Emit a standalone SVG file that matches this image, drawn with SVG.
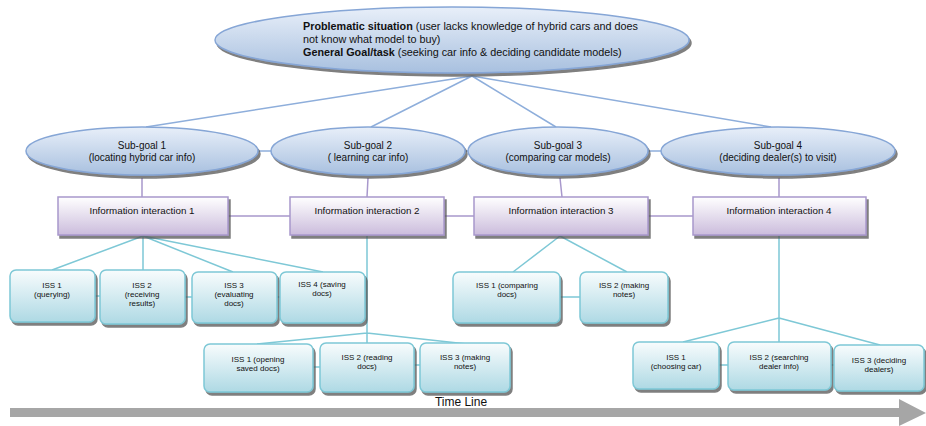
<svg xmlns="http://www.w3.org/2000/svg" width="926" height="426" viewBox="0 0 926 426">
<defs>
<linearGradient id="gE" x1="0" y1="0" x2="0" y2="1"><stop offset="0" stop-color="#e8eff9"/><stop offset="1" stop-color="#a8c0df"/></linearGradient>
<linearGradient id="gI" x1="0" y1="0" x2="0" y2="1"><stop offset="0" stop-color="#ffffff"/><stop offset="1" stop-color="#cbbcdc"/></linearGradient>
<linearGradient id="gS" x1="0" y1="0" x2="0" y2="1"><stop offset="0" stop-color="#f8fcfd"/><stop offset="1" stop-color="#aed9e4"/></linearGradient>
<filter id="sh" x="-10%" y="-10%" width="125%" height="135%"><feDropShadow dx="2" dy="3" stdDeviation="0.6" flood-color="#555" flood-opacity="0.75"/></filter>
</defs>
<style>
.ell{fill:url(#gE);stroke:#86a6d6;stroke-width:1.5;filter:url(#sh)}
.ii{fill:url(#gI);stroke:#a898cc;stroke-width:1.5;filter:url(#sh)}
.iss{fill:url(#gS);stroke:#7ec8d6;stroke-width:1.5;filter:url(#sh)}
.cb{stroke:#8eaedb;stroke-width:1.5;fill:none}
.cp{stroke:#a898cc;stroke-width:1.5;fill:none}
.ct{stroke:#7ec8d6;stroke-width:1.5;fill:none}
text{font-family:"Liberation Sans",Arial,sans-serif;fill:#111}
.t10{font-size:10px;text-anchor:middle}
.t95{font-size:9.8px;text-anchor:middle}
.t8{font-size:8px;text-anchor:middle}
.top{font-size:10.8px}
.b{font-weight:bold}
</style>
<g id="connectors">
<path class="cb" d="M472,76 L146,127 M472,76 L371,127 M472,76 L556,127 M472,76 L771,127"/>
<path class="cb" d="M258,151 H272 M465,151 H468 M648,151 H661"/>
<path class="cp" d="M142,178 V197 M368,178 L367,197 M560,178 L562,197 M779,178 V197"/>
<path class="cp" d="M228,216 H290 M444,216 H474 M648,216 H693"/>
<path class="ct" d="M143,236 L52,270 M143,236 V270 M143,236 L233,272 M143,236 L323,272"/>
<path class="ct" d="M95,296 H100 M185,297 H192 M277,297 H280"/>
<path class="ct" d="M367,236 V333 M367,333 L257,344 M367,333 V344 M367,333 L467,344"/>
<path class="ct" d="M313,367 H320 M414,365 H420"/>
<path class="ct" d="M560,236 L513,272 M560,236 L627,272 M560,297 H580"/>
<path class="ct" d="M779,236 V318 M779,318 L683,342 M779,318 V343 M779,318 L880,345"/>
<path class="ct" d="M719,365 H728 M831,365 H834"/>
</g>
<g id="top-goal">
<ellipse class="ell" cx="452" cy="40" rx="237" ry="33"/>
<text class="top" x="303" y="30"><tspan class="b">Problematic situation</tspan> (user lacks knowledge of hybrid cars and does</text>
<text class="top" x="303" y="43">not know what model to buy)</text>
<text class="top" x="303" y="56"><tspan class="b">General Goal/task</tspan> (seeking car info &amp; deciding candidate models)</text>
</g>
<g id="subgoal1"><ellipse class="ell" cx="142" cy="151" rx="116" ry="24"/><text class="t10" x="142" y="149">Sub-goal 1</text><text class="t10" x="142" y="161">(locating hybrid car info)</text></g>
<g id="subgoal2"><ellipse class="ell" cx="368" cy="151" rx="97" ry="24"/><text class="t10" x="368" y="149">Sub-goal 2</text><text class="t10" x="368" y="161">( learning car info)</text></g>
<g id="subgoal3"><ellipse class="ell" cx="558" cy="151" rx="90" ry="24"/><text class="t10" x="558" y="149">Sub-goal 3</text><text class="t10" x="558" y="161">(comparing car models)</text></g>
<g id="subgoal4"><ellipse class="ell" cx="778" cy="151" rx="117" ry="24"/><text class="t10" x="778" y="149">Sub-goal 4</text><text class="t10" x="778" y="161">(deciding dealer(s) to visit)</text></g>
<g id="ii1"><rect class="ii" x="58" y="197" width="170" height="38"/><text class="t95" x="142" y="214">Information interaction 1</text></g>
<g id="ii2"><rect class="ii" x="290" y="197" width="154" height="38"/><text class="t95" x="367" y="214">Information interaction 2</text></g>
<g id="ii3"><rect class="ii" x="474" y="197" width="174" height="38"/><text class="t95" x="561" y="214">Information interaction 3</text></g>
<g id="ii4"><rect class="ii" x="693" y="197" width="173" height="38"/><text class="t95" x="779" y="214">Information interaction 4</text></g>
<g id="ii1-iss1"><rect class="iss" x="10" y="270" width="85" height="52" rx="6"/><text class="t8" x="52" y="288">ISS 1</text><text class="t8" x="52" y="297">(querying)</text></g>
<g id="ii1-iss2"><rect class="iss" x="100" y="270" width="85" height="54" rx="6"/><text class="t8" x="142" y="288">ISS 2</text><text class="t8" x="142" y="297">(receiving</text><text class="t8" x="142" y="306">results)</text></g>
<g id="ii1-iss3"><rect class="iss" x="192" y="272" width="85" height="51" rx="6"/><text class="t8" x="234" y="288">ISS 3</text><text class="t8" x="234" y="297">(evaluating</text><text class="t8" x="234" y="306">docs)</text></g>
<g id="ii1-iss4"><rect class="iss" x="280" y="272" width="85" height="51" rx="6"/><text class="t8" x="322" y="287">ISS 4 (saving</text><text class="t8" x="322" y="296">docs)</text></g>
<g id="ii3-iss1"><rect class="iss" x="453" y="272" width="107" height="51" rx="6"/><text class="t8" x="507" y="288">ISS 1 (comparing</text><text class="t8" x="507" y="297">docs)</text></g>
<g id="ii3-iss2"><rect class="iss" x="580" y="272" width="88" height="51" rx="6"/><text class="t8" x="624" y="288">ISS 2 (making</text><text class="t8" x="624" y="297">notes)</text></g>
<g id="ii2-iss1"><rect class="iss" x="204" y="344" width="109" height="48" rx="6"/><text class="t8" x="258" y="362">ISS 1 (opening</text><text class="t8" x="258" y="371">saved docs)</text></g>
<g id="ii2-iss2"><rect class="iss" x="320" y="343" width="94" height="49" rx="6"/><text class="t8" x="367" y="360">ISS 2 (reading</text><text class="t8" x="367" y="369">docs)</text></g>
<g id="ii2-iss3"><rect class="iss" x="420" y="343" width="90" height="49" rx="6"/><text class="t8" x="465" y="360">ISS 3 (making</text><text class="t8" x="465" y="369">notes)</text></g>
<g id="ii4-iss1"><rect class="iss" x="633" y="342" width="86" height="47" rx="6"/><text class="t8" x="676" y="360">ISS 1</text><text class="t8" x="676" y="369">(choosing car)</text></g>
<g id="ii4-iss2"><rect class="iss" x="728" y="342" width="103" height="48" rx="6"/><text class="t8" x="779" y="360">ISS 2 (searching</text><text class="t8" x="779" y="369">dealer info)</text></g>
<g id="ii4-iss3"><rect class="iss" x="834" y="345" width="90" height="46" rx="6"/><text class="t8" x="879" y="363">ISS 3 (deciding</text><text class="t8" x="879" y="372">dealers)</text></g>
<g id="timeline">
<polygon points="10,408 899,408 899,399 926,413 899,426 899,417 10,417" fill="#a6a6a6"/>
<text x="461" y="406" style="font-size:12px;text-anchor:middle">Time Line</text>
</g>
</svg>
